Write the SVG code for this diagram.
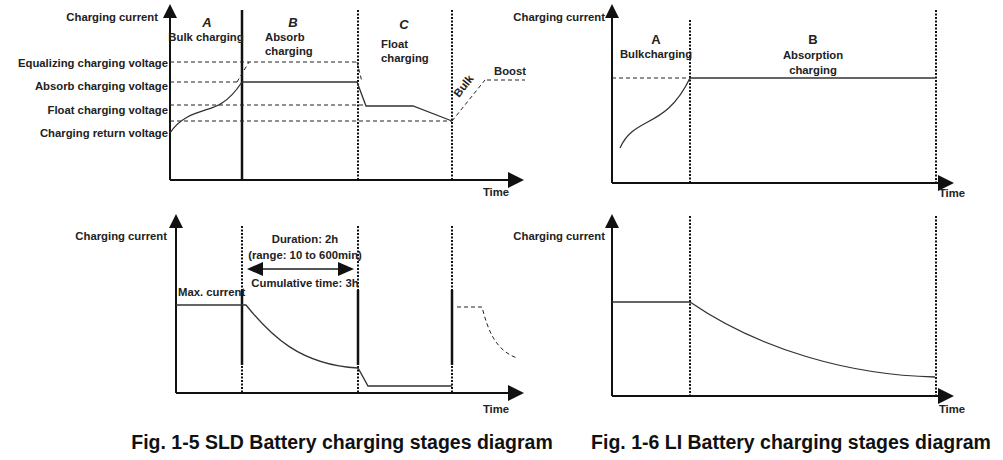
<svg xmlns="http://www.w3.org/2000/svg" width="1003" height="460" viewBox="0 0 1003 460">
<style>
text{font-family:"Liberation Sans",Arial,sans-serif;font-weight:bold;font-size:11.3px;fill:#222}
.r{text-anchor:end}.m{text-anchor:middle}
.ax{stroke:#111;stroke-width:2;fill:none}
.dot{stroke:#111;stroke-width:2;stroke-dasharray:2 1.5;fill:none}
.dash{stroke:#222;stroke-width:1;stroke-dasharray:4 3;fill:none}
.ln{stroke:#333;stroke-width:1.3;fill:none}
.cap{font-size:19.5px;fill:#111}
.big{font-size:13px}
</style>
<defs>
<marker id="ab" markerWidth="16" markerHeight="14" refX="14" refY="7" orient="auto-start-reverse" markerUnits="userSpaceOnUse"><path d="M0,0L16,7L0,14z" fill="#111"/></marker>
</defs>
<g id="connectors">
<path class="ax" d="M170,180V18M170,180H510"/>
<path d="M163,18L170,4L177,18z M508,172L524,180L508,188z" fill="#111"/>
<path d="M242,10V180" stroke="#111" stroke-width="2.5"/>
<path class="dot" d="M358,10V180M452,10V180"/>
<path class="dash" d="M170,62H357M170,82H240M170,105H366M170,121H452M237,82L249,62M357,62L362,82M452,121L485,80M487,80H525"/>
<path class="ln" d="M170,133C185,110 210,112 222,103C232,97 238,88 242,82H357L366,106H413L452,121"/>
<path class="ax" d="M176,393V226M176,393H510"/>
<path d="M169,228L176,214L183,228z M508,385L524,393L508,401z" fill="#111"/>
<path class="dot" d="M242,226V393M358,226V393M452,226V393"/>
<path d="M242,290V365M358,290V365M452,290V365" stroke="#111" stroke-width="2.5"/>
<path d="M249,269H352" stroke="#555" stroke-width="2" marker-start="url(#ab)" marker-end="url(#ab)"/>
<path class="ln" d="M176,305H246C270,335 300,365 358,368L368,386H452"/>
<path class="dash" d="M457,307H482C488,330 495,350 517,358"/>
<path class="ax" d="M612,183V18M612,183H940"/>
<path d="M605,18L612,4L619,18z M938,175L954,183L938,191z" fill="#111"/>
<path class="dot" d="M690,20V183M936,10V183" stroke-width="1" stroke-dasharray="2 2"/>
<path class="dash" d="M612,78H690"/>
<path class="ln" d="M620,148C635,115 665,130 690,78H935"/>
<path class="ax" d="M612,396V226M612,396H940"/>
<path d="M605,228L612,214L619,228z M938,388L954,396L938,404z" fill="#111"/>
<path class="dot" d="M690,216V396M936,216V396" stroke-width="1" stroke-dasharray="2 2"/>
<path class="ln" d="M612,302H690C760,350 850,375 935,377"/>
</g>
<g id="fig15-top-labels">
<text x="158" y="21" class="r">Charging current</text>
<text x="207" y="27" class="m big" font-style="italic">A</text>
<text x="206" y="41" class="m">Bulk charging</text>
<text x="293" y="27" class="m big" font-style="italic">B</text>
<text x="265" y="41">Absorb</text>
<text x="265" y="55">charging</text>
<text x="404" y="29" class="m big" font-style="italic">C</text>
<text x="381" y="48">Float</text>
<text x="381" y="62">charging</text>
<text x="526" y="75" class="r">Boost</text>
<text x="0" y="0" transform="translate(459,98) rotate(-52)">Bulk</text>
<text x="168" y="67" class="r">Equalizing charging voltage</text>
<text x="168" y="90" class="r">Absorb charging voltage</text>
<text x="168" y="114" class="r">Float charging voltage</text>
<text x="168" y="137" class="r">Charging return voltage</text>
<text x="496" y="196" class="m">Time</text>
</g>
<g id="fig15-bottom-labels">
<text x="167" y="240" class="r">Charging current</text>
<text x="305" y="243" class="m">Duration: 2h</text>
<text x="305" y="259" class="m">(range: 10 to 600min)</text>
<text x="305" y="287" class="m">Cumulative time: 3h</text>
<text x="178" y="296">Max. current</text>
<text x="496" y="413" class="m">Time</text>
</g>
<g id="fig16-labels">
<text x="605" y="21" class="r">Charging current</text>
<text x="656" y="44" class="m big">A</text>
<text x="656" y="58" class="m">Bulkcharging</text>
<text x="813" y="44" class="m big">B</text>
<text x="813" y="59" class="m">Absorption</text>
<text x="813" y="74" class="m">charging</text>
<text x="952" y="197" class="m">Time</text>
<text x="605" y="240" class="r">Charging current</text>
<text x="952" y="413" class="m">Time</text>
</g>
<text x="342" y="449" class="m cap">Fig. 1-5 SLD Battery charging stages diagram</text>
<text x="791" y="449" class="m cap">Fig. 1-6 LI Battery charging stages diagram</text>
</svg>
